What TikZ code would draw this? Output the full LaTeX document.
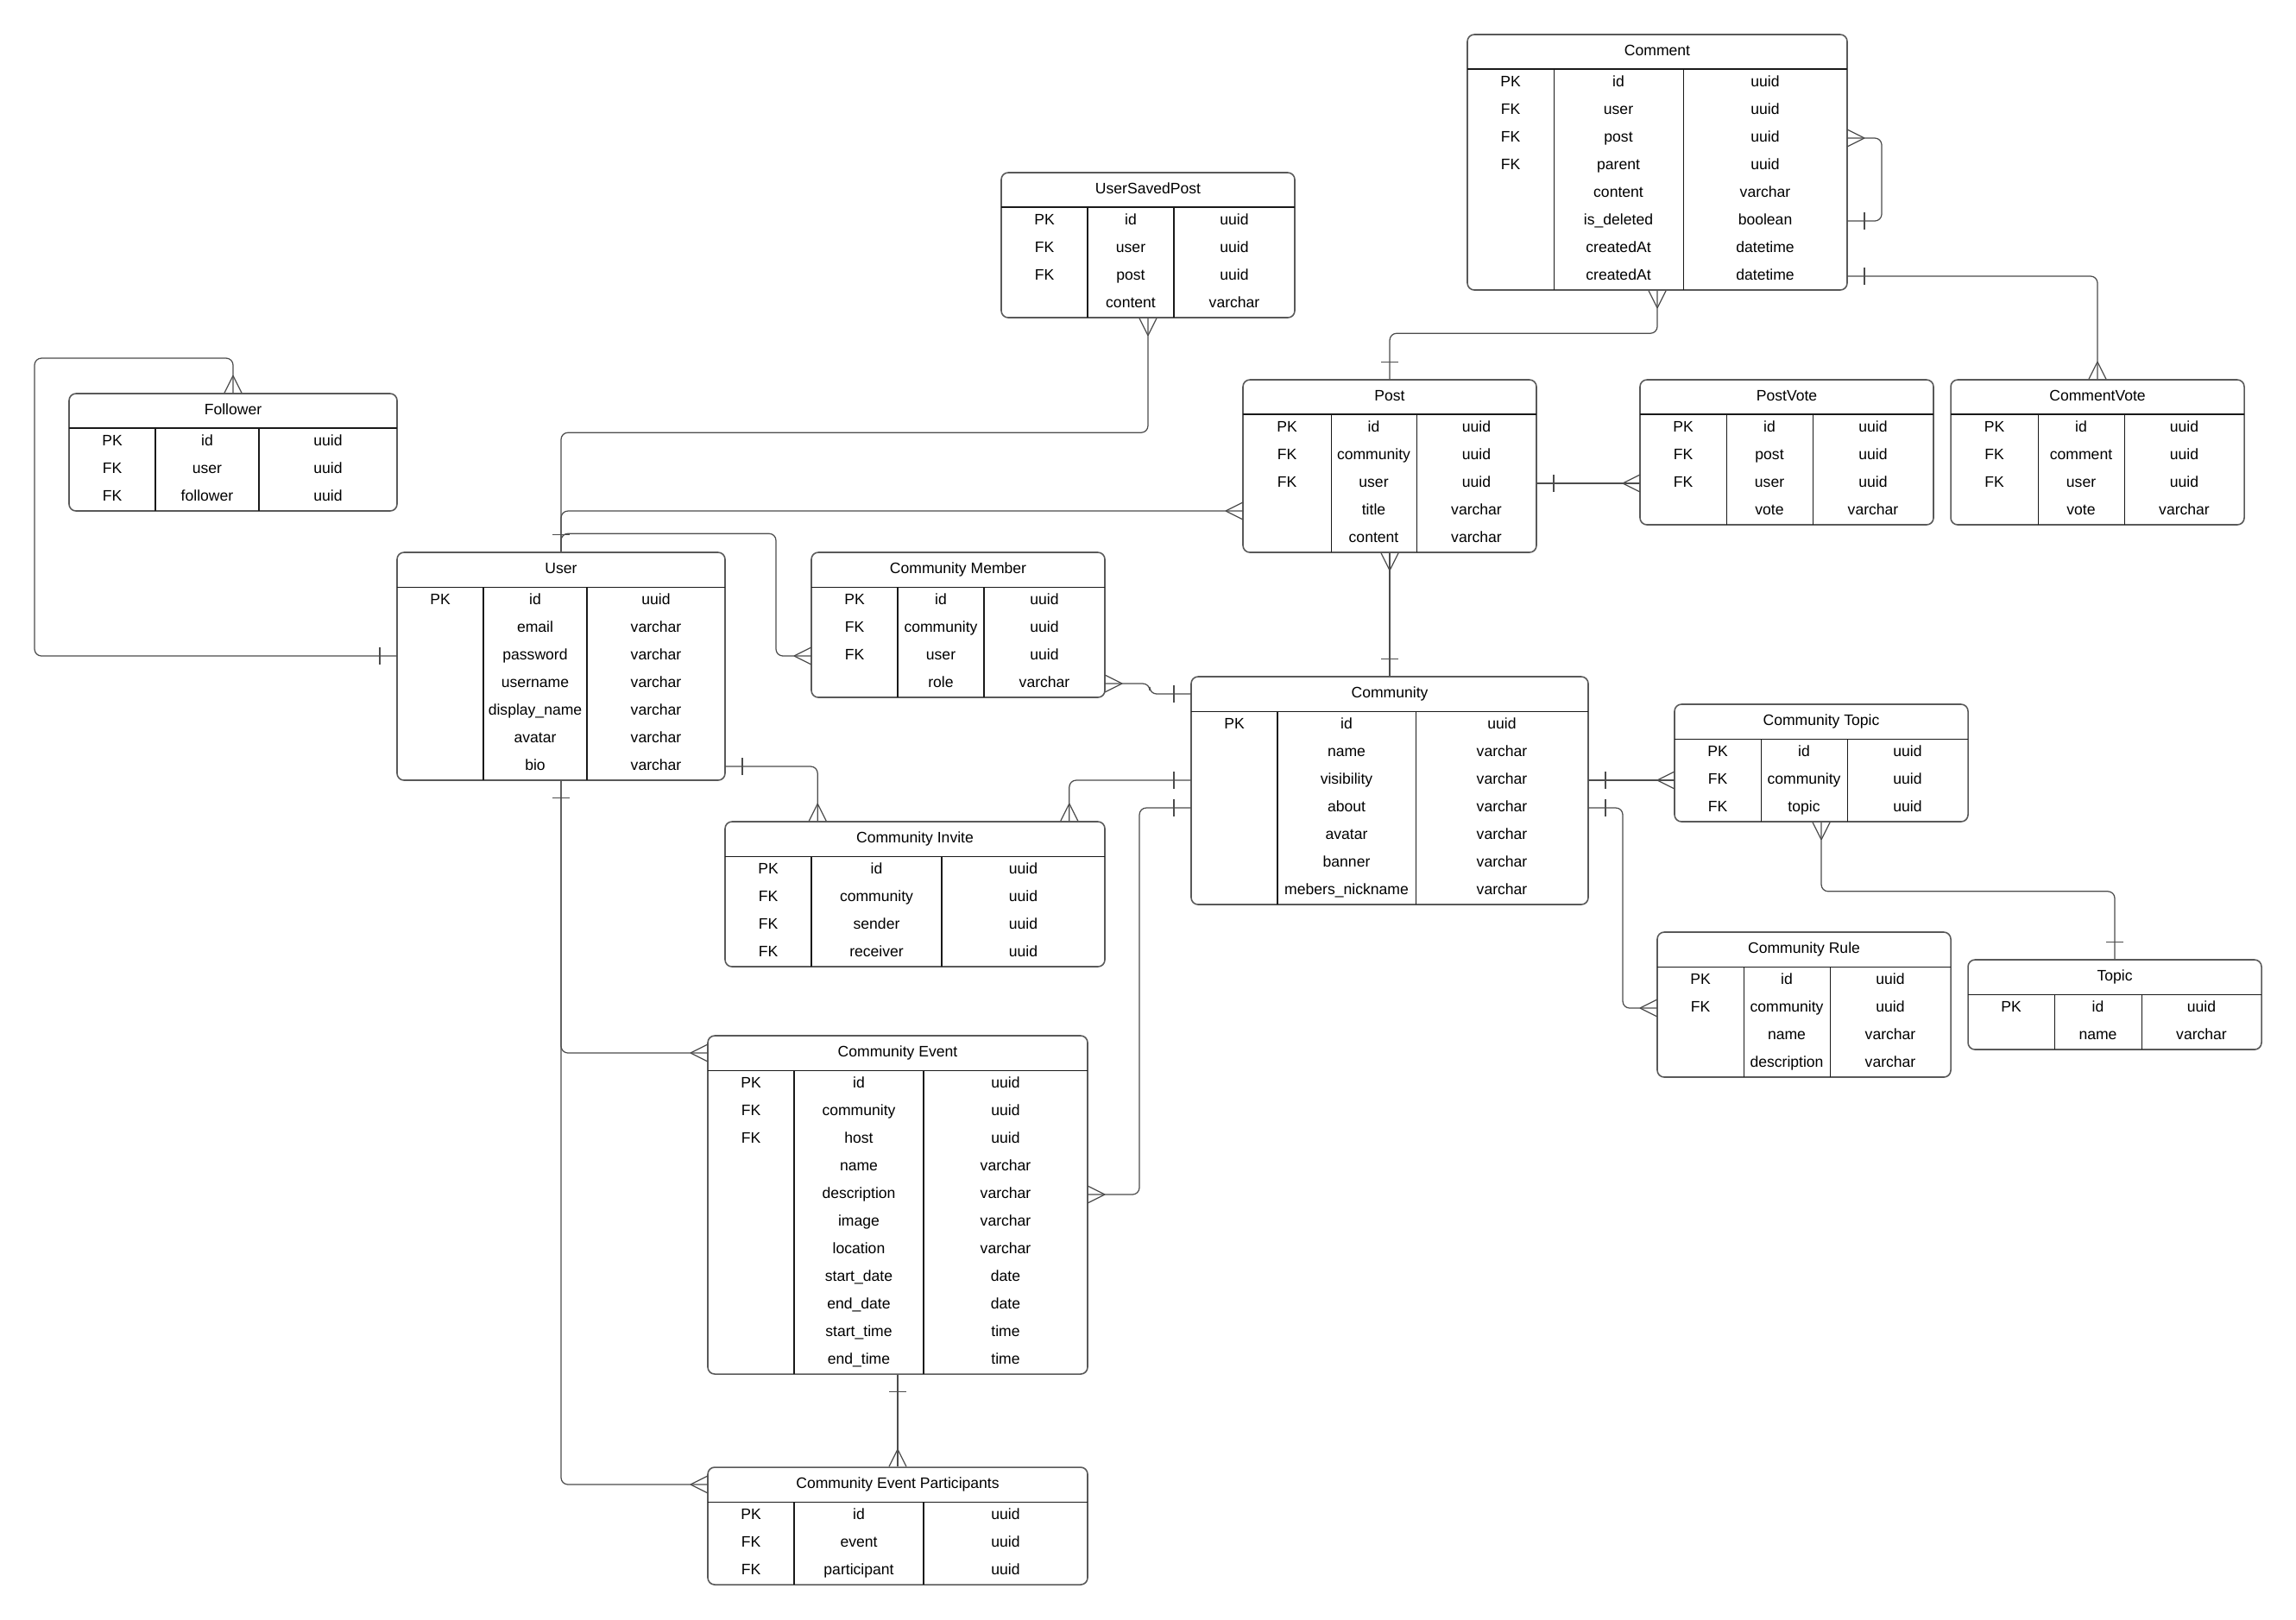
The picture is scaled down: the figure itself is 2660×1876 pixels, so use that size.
\documentclass[tikz,border=0pt]{standalone}
\usepackage{fontspec}
\setmainfont{Liberation Sans}
\usepackage{tikz}
\usetikzlibrary{calc, fit}

\tikzset{
  box/.style={draw=black!65, line width=0.45pt, rounded corners=0.8mm, inner sep=0pt},
  cell/.style={black!90, line width=0.3pt},
  field/.style={font=\fontsize{5}{6}\selectfont, anchor=base, inner sep=0pt},
  link/.style={draw=black!70, line width=0.35pt, rounded corners=0.8mm},
  many/.pic={\draw[link] (-20,0) -- (0,-10) (-20,0) -- (0,10);},
  one/.pic={\draw[link] (-20,-10) -- (-20,10);}
}

% #1 name, #2 left, #3 top, #4 right, #5 #6 column lines, #7 title, #8 rows, #9 fields
\newcommand{\ertable}[9]{%
  \pgfmathsetmacro\erbot{#3+40+32*#8}
  \coordinate (#1-nw) at (#2,#3);
  \coordinate (#1-se) at (#4,\erbot);
  \node[box, fit=(#1-nw)(#1-se)] (#1) {};
  \coordinate (#1-h-w) at (#2,#3+20);
  \coordinate (#1-h-e) at (#4,#3+20);
  \draw[cell] (#2,#3+40) -- (#4,#3+40);
  \draw[cell] (#5,#3+40) -- (#5,\erbot) (#6,#3+40) -- (#6,\erbot);
  \node[field] (#1-title) at ({(#2+#4)/2},#3+24) {#7};
  \foreach \k/\f/\t [count=\rowno] in {#9} {
    \pgfmathsetmacro\erbase{#3+60+32*(\rowno-1)}
    \node[field] (#1-k\rowno) at ({(#2+#5)/2},\erbase) {\k};
    \node[field] (#1-f\rowno) at ({(#5+#6)/2},\erbase) {\f};
    \node[field] (#1-t\rowno) at ({(#6+#4)/2},\erbase) {\t};
    \coordinate (#1-r\rowno-w) at (#2,\erbase-4);
    \coordinate (#1-r\rowno-e) at (#4,\erbase-4);
  }
}

\begin{document}
\begin{tikzpicture}[x=0.1mm, y=-0.1mm]
\fill[white] (0,0) rectangle (2660,1876);
\useasboundingbox (0,0) rectangle (2660,1876);

% tables
\ertable{comment}{1700}{40}{2140}{1800}{1950}{Comment}{8}{PK/id/uuid, FK/user/uuid, FK/post/uuid, FK/parent/uuid, /content/varchar, /is\_deleted/boolean, /createdAt/datetime, /createdAt/datetime}
\ertable{usp}{1160}{200}{1500}{1260}{1360}{UserSavedPost}{4}{PK/id/uuid, FK/user/uuid, FK/post/uuid, /content/varchar}
\ertable{follower}{80}{456}{460}{180}{300}{Follower}{3}{PK/id/uuid, FK/user/uuid, FK/follower/uuid}
\ertable{user}{460}{640}{840}{560}{680}{User}{7}{PK/id/uuid, /email/varchar, /password/varchar, /username/varchar, /display\_name/varchar, /avatar/varchar, /bio/varchar}
\ertable{member}{940}{640}{1280}{1040}{1140}{Community Member}{4}{PK/id/uuid, FK/community/uuid, FK/user/uuid, /role/varchar}
\ertable{post}{1440}{440}{1780}{1542}{1641}{Post}{5}{PK/id/uuid, FK/community/uuid, FK/user/uuid, /title/varchar, /content/varchar}
\ertable{postvote}{1900}{440}{2240}{2000}{2100}{PostVote}{4}{PK/id/uuid, FK/post/uuid, FK/user/uuid, /vote/varchar}
\ertable{commentvote}{2260}{440}{2600}{2361}{2461}{CommentVote}{4}{PK/id/uuid, FK/comment/uuid, FK/user/uuid, /vote/varchar}
\ertable{community}{1380}{784}{1840}{1480}{1640}{Community}{7}{PK/id/uuid, /name/varchar, /visibility/varchar, /about/varchar, /avatar/varchar, /banner/varchar, /mebers\_nickname/varchar}
\ertable{ctopic}{1940}{816}{2280}{2040}{2140}{Community Topic}{3}{PK/id/uuid, FK/community/uuid, FK/topic/uuid}
\ertable{invite}{840}{952}{1280}{940}{1091}{Community Invite}{4}{PK/id/uuid, FK/community/uuid, FK/sender/uuid, FK/receiver/uuid}
\ertable{rule}{1920}{1080}{2260}{2020}{2120}{Community Rule}{4}{PK/id/uuid, FK/community/uuid, /name/varchar, /description/varchar}
\ertable{topic}{2280}{1112}{2620}{2380}{2481}{Topic}{2}{PK/id/uuid, /name/varchar}
\ertable{event}{820}{1200}{1260}{920}{1070}{Community Event}{11}{PK/id/uuid, FK/community/uuid, FK/host/uuid, /name/varchar, /description/varchar, /image/varchar, /location/varchar, /start\_date/date, /end\_date/date, /start\_time/time, /end\_time/time}
\ertable{participant}{820}{1700}{1260}{920}{1070}{Community Event Participants}{3}{PK/id/uuid, FK/event/uuid, FK/participant/uuid}

% relations of User
\draw[link] (user-r3-w) -| ++(-420,-345) -| (follower.north);
\pic at (user-r3-w) {one};
\pic[rotate=-90] at (follower.north) {many};

\draw[link] (user.north) -- ++(0,-138) -| (usp.south);
\draw[link] (user.north) |- (post-r4-w);
\draw[link] (user.north) -- ++(0,-21) -| ($(member-r3-w)+(-41,0)$) -- (member-r3-w);
\pic[rotate=-90] at (user.north) {one};
\pic[rotate=90] at (usp.south) {many};
\pic at (post-r4-w) {many};
\pic at (member-r3-w) {many};

\draw[link] (user-r7-e) -| ($(invite.north west)+(108,0)$) coordinate (invite-p1);
\pic[rotate=180] at (user-r7-e) {one};
\pic[rotate=-90] at (invite-p1) {many};

\draw[link] (user.south) |- (event-h-w);
\draw[link] (user.south) |- (participant-h-w);
\pic[rotate=90] at (user.south) {one};
\pic at (event-h-w) {many};
\pic at (participant-h-w) {many};

\draw[link] (event.south) -- (participant.north);
\pic[rotate=90] at (event.south) {one};
\pic[rotate=-90] at (participant.north) {many};

% relations of Community
\draw[link] (community-r3-w) -| ($(invite.north east)+(-42,0)$) coordinate (invite-p2);
\pic at (community-r3-w) {one};
\pic[rotate=-90] at (invite-p2) {many};

\draw[link] (community-r4-w) -- ++(-60,0) |- (event-r5-e);
\pic at (community-r4-w) {one};
\pic[rotate=180] at (event-r5-e) {many};

\draw[link] (member-r4-e) -- ++(52,0) |- (community-h-w);
\pic[rotate=180] at (member-r4-e) {many};
\pic at (community-h-w) {one};

\draw[link] (post.south) -- (community.north);
\pic[rotate=90] at (post.south) {many};
\pic[rotate=-90] at (community.north) {one};

\draw[link] (community-r3-e) -- (ctopic-r2-w);
\pic[rotate=180] at (community-r3-e) {one};
\pic at (ctopic-r2-w) {many};

\draw[link] (community-r4-e) -- ++(40,0) |- (rule-r2-w);
\pic[rotate=180] at (community-r4-e) {one};
\pic at (rule-r2-w) {many};

\draw[link] (ctopic.south) -- ++(0,80) -| (topic.north);
\pic[rotate=90] at (ctopic.south) {many};
\pic[rotate=-90] at (topic.north) {one};

% relations of Post and Comment
\draw[link] (post-r3-e) -- (postvote-r3-w);
\pic[rotate=180] at (post-r3-e) {one};
\pic at (postvote-r3-w) {many};

\draw[link] (post.north) -- ++(0,-53) -| (comment.south);
\pic[rotate=-90] at (post.north) {one};
\pic[rotate=90] at (comment.south) {many};

\draw[link] (comment-r8-e) -| (commentvote.north);
\pic[rotate=180] at (comment-r8-e) {one};
\pic[rotate=-90] at (commentvote.north) {many};

\draw[link] (comment-r6-e) -- ++(40,0) |- (comment-r3-e);
\pic[rotate=180] at (comment-r6-e) {one};
\pic[rotate=180] at (comment-r3-e) {many};
\end{tikzpicture}
\end{document}
